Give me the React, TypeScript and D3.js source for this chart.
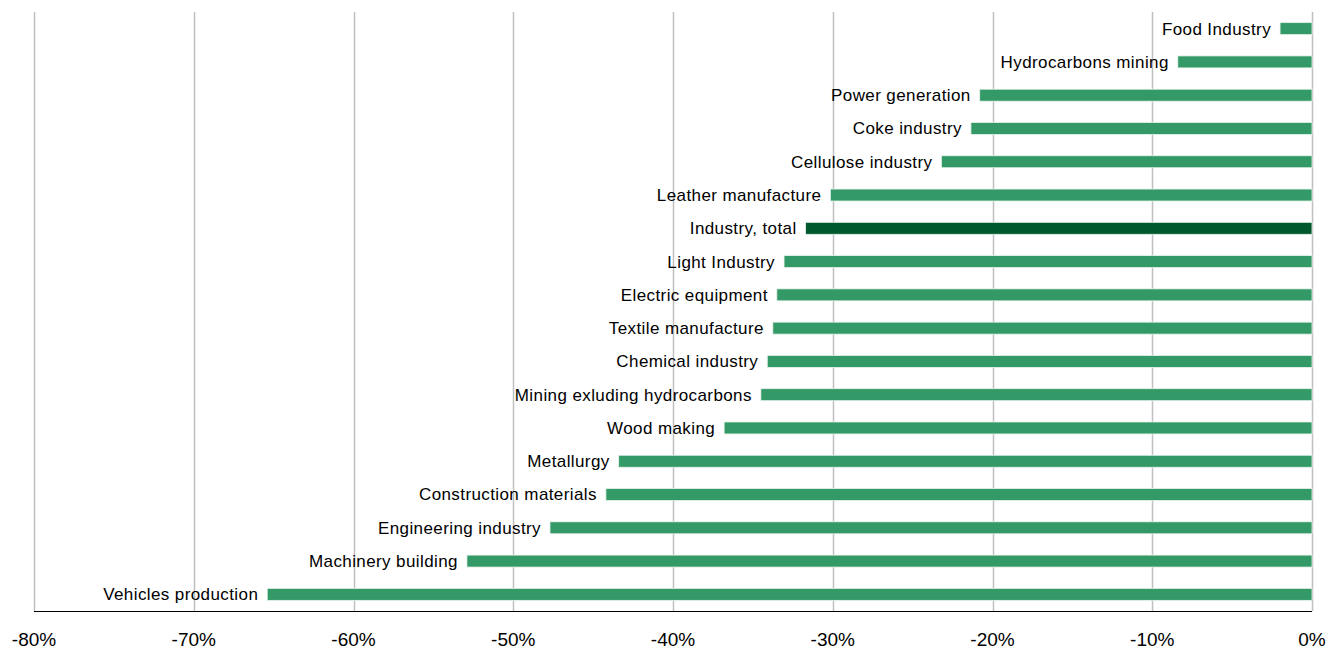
import React from "react";
import * as d3 from "d3";

const categories = [
  "Food Industry",
  "Hydrocarbons mining",
  "Power generation",
  "Coke industry",
  "Cellulose  industry",
  "Leather manufacture",
  "Industry, total",
  "Light Industry",
  "Electric equipment",
  "Textile manufacture",
  "Chemical industry",
  "Mining exluding hydrocarbons",
  "Wood making",
  "Metallurgy",
  "Construction materials",
  "Engineering industry",
  "Machinery  building",
  "Vehicles production",
];

const values = [
  -2.0, -8.4, -20.8, -21.35, -23.2, -30.15, -31.7, -33.05, -33.5, -33.75,
  -34.1, -34.5, -36.8, -43.4, -44.2, -47.7, -52.9, -65.4,
];

const highlight = ["Industry, total"];

const tickValues = [-80, -70, -60, -50, -40, -30, -20, -10, 0];

const W = 1328;
const H = 650;

export default function App() {
  const x = d3.scaleLinear().domain([-80, 0]).range([34, 1312]);
  const y = d3
    .scaleBand<string>()
    .domain(categories)
    .range([12, 611])
    .paddingInner(0.64)
    .paddingOuter(0.32);
  const bh = y.bandwidth();
  const font = "Arial, 'Liberation Sans', sans-serif";

  return (
    <svg
      width={W}
      height={H}
      style={{ position: "absolute", left: 0, top: 0, background: "#fff" }}
      fontFamily={font}
    >
      {tickValues.map((t) => (
        <line
          key={"g" + t}
          x1={Math.round(x(t)) + 0.5}
          x2={Math.round(x(t)) + 0.5}
          y1={12}
          y2={611}
          stroke="#c0c0c0"
          strokeWidth={1.5}
        />
      ))}
      {categories.map((c, i) => {
        const v = values[i];
        const y0 = y(c)!;
        return (
          <g key={c}>
            <rect
              x={x(v)}
              y={y0}
              width={x(0) - x(v)}
              height={bh}
              fill={highlight.includes(c) ? "#00592e" : "#339966"}
              stroke="#e8f3ec"
              strokeWidth={0.8}
            />
            <text
              x={x(v) - 9}
              y={y0 + bh / 2}
              dy="0.35em"
              textAnchor="end"
              fontSize={17}
              letterSpacing={0.4}
              fill="#000"
            >
              {c}
            </text>
          </g>
        );
      })}
      <line x1={34} x2={1312} y1={611.5} y2={611.5} stroke="#000" strokeWidth={1} />
      {tickValues.map((t) => (
        <text
          key={"t" + t}
          x={x(t)}
          y={646}
          textAnchor="middle"
          fontSize={19}
          fill="#000"
        >
          {t + "%"}
        </text>
      ))}
    </svg>
  );
}
